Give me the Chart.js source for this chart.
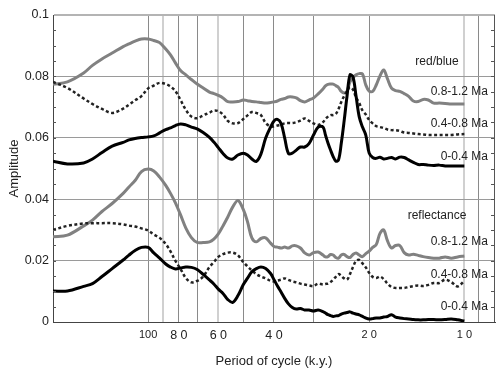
<!DOCTYPE html>
<html>
<head>
<meta charset="utf-8">
<script src="https://cdn.jsdelivr.net/npm/chart.js@4.4.0/dist/chart.umd.min.js"></script>
<style>
  html, body { margin: 0; padding: 0; background: #fff; }
  #wrap { width: 504px; height: 372px; }
</style>
</head>
<body>
<div id="wrap"><canvas id="spectra" width="504" height="372"></canvas></div>
<script>
// periods (k.y.) shared by all six spectra
const periods = [200, 180, 160, 150, 140, 130, 120, 115, 110, 105,
    100, 96, 92, 88, 85, 82, 79, 76, 73, 70,
    67, 64, 62, 60, 58, 56, 54, 52, 50, 48.5,
    47, 45.5, 44, 42.5, 41, 40, 39, 38, 37, 36,
    35, 34, 33, 32, 31, 30, 29, 28, 27.5, 27,
    26.5, 26, 25.5, 25, 24.5, 24, 23.5, 23, 22.5, 22,
    21.5, 21, 20.5, 20, 19.5, 19, 18.5, 18, 17.5, 17,
    16.5, 16, 15.5, 15, 14.5, 14, 13.5, 13, 12.5, 12,
    11.5, 11, 10.5, 10];

// red/blue
const rbOld = [0.0774, 0.0782, 0.0811, 0.0836, 0.0857, 0.0876, 0.0897, 0.0906, 0.0915, 0.0922,
    0.0922, 0.0917, 0.0910, 0.0889, 0.0870, 0.0844, 0.0819, 0.0805, 0.0790, 0.0775,
    0.0762, 0.0749, 0.0744, 0.0738, 0.0730, 0.0718, 0.0717, 0.0718, 0.0723, 0.0721,
    0.0718, 0.0717, 0.0715, 0.0713, 0.0715, 0.0717, 0.0720, 0.0725, 0.0728, 0.0733,
    0.0733, 0.0730, 0.0721, 0.0717, 0.0723, 0.0730, 0.0743, 0.0759, 0.0769, 0.0774,
    0.0775, 0.0775, 0.0770, 0.0764, 0.0751, 0.0746, 0.0752, 0.0782, 0.0796, 0.0805,
    0.0809, 0.0808, 0.0772, 0.0752, 0.0751, 0.0772, 0.0801, 0.0821, 0.0792, 0.0762,
    0.0754, 0.0751, 0.0744, 0.0735, 0.0720, 0.0718, 0.0725, 0.0723, 0.0713, 0.0713,
    0.0712, 0.0710, 0.0710, 0.0710];
const rbMid = [0.0782, 0.0762, 0.0728, 0.0710, 0.0694, 0.0681, 0.0695, 0.0708, 0.0722, 0.0736,
    0.0761, 0.0770, 0.0779, 0.0775, 0.0767, 0.0752, 0.0723, 0.0691, 0.0669, 0.0664,
    0.0673, 0.0682, 0.0689, 0.0687, 0.0676, 0.0655, 0.0647, 0.0648, 0.0661, 0.0673,
    0.0684, 0.0681, 0.0674, 0.0648, 0.0637, 0.0637, 0.0640, 0.0643, 0.0647, 0.0648,
    0.0648, 0.0651, 0.0656, 0.0663, 0.0655, 0.0647, 0.0642, 0.0651, 0.0661, 0.0669,
    0.0674, 0.0674, 0.0678, 0.0694, 0.0717, 0.0736, 0.0752, 0.0765, 0.0757, 0.0731,
    0.0713, 0.0689, 0.0676, 0.0658, 0.0647, 0.0638, 0.0635, 0.0632, 0.0627, 0.0625,
    0.0625, 0.0622, 0.0617, 0.0616, 0.0614, 0.0612, 0.0611, 0.0609, 0.0609, 0.0609,
    0.0609, 0.0609, 0.0611, 0.0612];
const rbYoung = [0.0524, 0.0515, 0.0518, 0.0531, 0.0552, 0.0573, 0.0585, 0.0593, 0.0598, 0.0601,
    0.0603, 0.0606, 0.0616, 0.0627, 0.0632, 0.0640, 0.0645, 0.0642, 0.0635, 0.0629,
    0.0617, 0.0601, 0.0586, 0.0568, 0.0549, 0.0534, 0.0531, 0.0544, 0.0550, 0.0544,
    0.0531, 0.0523, 0.0547, 0.0599, 0.0635, 0.0655, 0.0660, 0.0647, 0.0599, 0.0549,
    0.0550, 0.0560, 0.0570, 0.0570, 0.0581, 0.0609, 0.0635, 0.0635, 0.0609, 0.0583,
    0.0560, 0.0539, 0.0524, 0.0528, 0.0583, 0.0655, 0.0736, 0.0805, 0.0798, 0.0735,
    0.0668, 0.0635, 0.0609, 0.0550, 0.0536, 0.0533, 0.0537, 0.0531, 0.0533, 0.0536,
    0.0531, 0.0537, 0.0536, 0.0528, 0.0520, 0.0513, 0.0513, 0.0511, 0.0510, 0.0511,
    0.0508, 0.0508, 0.0508, 0.0508];

// reflectance
const rfOld = [0.0278, 0.0283, 0.0313, 0.0332, 0.0360, 0.0386, 0.0419, 0.0440, 0.0461, 0.0490,
    0.0498, 0.0492, 0.0472, 0.0445, 0.0419, 0.0388, 0.0349, 0.0306, 0.0275, 0.0259,
    0.0259, 0.0261, 0.0270, 0.0287, 0.0313, 0.0342, 0.0375, 0.0396, 0.0366, 0.0326,
    0.0274, 0.0261, 0.0272, 0.0274, 0.0257, 0.0246, 0.0244, 0.0241, 0.0244, 0.0241,
    0.0248, 0.0248, 0.0241, 0.0225, 0.0218, 0.0226, 0.0228, 0.0218, 0.0212, 0.0213,
    0.0220, 0.0218, 0.0210, 0.0208, 0.0218, 0.0220, 0.0213, 0.0210, 0.0220, 0.0225,
    0.0218, 0.0213, 0.0223, 0.0231, 0.0243, 0.0252, 0.0288, 0.0300, 0.0264, 0.0241,
    0.0249, 0.0249, 0.0226, 0.0218, 0.0221, 0.0217, 0.0213, 0.0210, 0.0208, 0.0208,
    0.0212, 0.0208, 0.0212, 0.0215];
const rfMid = [0.0300, 0.0313, 0.0321, 0.0322, 0.0322, 0.0322, 0.0318, 0.0314, 0.0311, 0.0305,
    0.0298, 0.0285, 0.0274, 0.0254, 0.0230, 0.0199, 0.0173, 0.0143, 0.0129, 0.0134,
    0.0148, 0.0179, 0.0195, 0.0212, 0.0221, 0.0226, 0.0226, 0.0217, 0.0195, 0.0181,
    0.0168, 0.0156, 0.0148, 0.0142, 0.0134, 0.0132, 0.0135, 0.0138, 0.0142, 0.0137,
    0.0132, 0.0129, 0.0125, 0.0122, 0.0119, 0.0117, 0.0125, 0.0122, 0.0124, 0.0125,
    0.0130, 0.0138, 0.0147, 0.0156, 0.0150, 0.0142, 0.0138, 0.0156, 0.0179, 0.0199,
    0.0202, 0.0191, 0.0178, 0.0160, 0.0147, 0.0143, 0.0148, 0.0140, 0.0125, 0.0114,
    0.0111, 0.0111, 0.0111, 0.0114, 0.0117, 0.0119, 0.0117, 0.0121, 0.0127, 0.0127,
    0.0138, 0.0130, 0.0116, 0.0134];
const rfYoung = [0.0101, 0.0101, 0.0116, 0.0125, 0.0148, 0.0174, 0.0202, 0.0218, 0.0233, 0.0243,
    0.0243, 0.0225, 0.0208, 0.0189, 0.0179, 0.0173, 0.0176, 0.0179, 0.0178, 0.0171,
    0.0155, 0.0137, 0.0124, 0.0107, 0.0093, 0.0073, 0.0064, 0.0086, 0.0122, 0.0143,
    0.0164, 0.0174, 0.0179, 0.0174, 0.0158, 0.0138, 0.0117, 0.0098, 0.0077, 0.0059,
    0.0047, 0.0042, 0.0044, 0.0039, 0.0039, 0.0036, 0.0039, 0.0034, 0.0029, 0.0024,
    0.0021, 0.0018, 0.0020, 0.0021, 0.0026, 0.0029, 0.0031, 0.0033, 0.0029, 0.0026,
    0.0023, 0.0018, 0.0013, 0.0010, 0.0011, 0.0013, 0.0013, 0.0016, 0.0018, 0.0024,
    0.0016, 0.0013, 0.0011, 0.0010, 0.0008, 0.0007, 0.0007, 0.0008, 0.0008, 0.0007,
    0.0008, 0.0010, 0.0007, 0.0003];

// axis ticks
const xGridTicks = [100, 90, 80, 70, 60, 50, 40, 30, 20, 10, 9];
const xLabels = {100: '100', 80: '8 0', 60: '6 0', 40: '4 0', 20: '2 0', 10: '1 0'};
const xLightLines = [90, 60, 10];
const yTicks = [0, 0.02, 0.04, 0.06, 0.08, 0.1];
const yLabels = {0: '0', 20: '0.02', 40: '0.04', 60: '0.06', 80: '0.08', 100: '0.1'};

// text on the right side: [text, amplitude at its middle, kind]
const notes = [
    ['red/blue', 0.0847, 'head'],
    ['0.8-1.2 Ma', 0.0749, 'age'],
    ['0.4-0.8 Ma', 0.0647, 'age'],
    ['0-0.4 Ma', 0.0539, 'age'],
    ['reflectance', 0.0347, 'head'],
    ['0.8-1.2 Ma', 0.0261, 'age'],
    ['0.4-0.8 Ma', 0.0155, 'age'],
    ['0-0.4 Ma', 0.0050, 'age']
];

const FONT = '"Liberation Sans", Arial, Helvetica, sans-serif';
Chart.defaults.font.family = FONT;
Chart.defaults.color = '#222';

const pts = vals => periods.map((p, i) => ({x: p, y: vals[i]}));
const gray = '#818181';

const line = (vals, color, dash, order, width) => ({
    data: pts(vals),
    borderColor: color,
    borderWidth: width,
    borderDash: dash,
    borderCapStyle: 'butt',
    pointRadius: 0,
    tension: 0.35,
    fill: false,
    order: order
});

// minor ticks on both sides, right frame line, the series notes
const extras = {
    id: 'extras',
    afterDatasetsDraw(chart) {
        const {ctx, chartArea, scales} = chart;
        const y = scales.y;
        ctx.save();
        ctx.strokeStyle = '#555';
        ctx.lineWidth = 1;
        ctx.beginPath();
        ctx.moveTo(chartArea.right - 0.5, chartArea.top);
        ctx.lineTo(chartArea.right - 0.5, chartArea.bottom);
        for (let i = 1; i < 20; i++) {
            const py = Math.round(y.getPixelForValue(i * 0.005)) + 0.5;
            ctx.moveTo(chartArea.left, py);
            ctx.lineTo(chartArea.left + 3, py);
            ctx.moveTo(chartArea.right - 4, py);
            ctx.lineTo(chartArea.right, py);
        }
        ctx.stroke();

        ctx.fillStyle = '#222';
        ctx.font = '12px ' + FONT;
        ctx.textBaseline = 'middle';
        notes.forEach(([text, amp, kind]) => {
            const py = y.getPixelForValue(amp);
            if (kind === 'head') {
                ctx.textAlign = 'center';
                ctx.fillText(text, chartArea.right - 58, py);
            } else {
                ctx.textAlign = 'right';
                ctx.fillText(text, chartArea.right - 7, py);
            }
        });
        ctx.restore();
    }
};

new Chart(document.getElementById('spectra'), {
    type: 'line',
    data: {
        datasets: [
            line(rbYoung, '#000', [], 1, 3),
            line(rbMid, '#222', [3, 2.5], 2, 2.5),
            line(rbOld, gray, [], 3, 3),
            line(rfYoung, '#000', [], 1, 3),
            line(rfMid, '#222', [3, 2.5], 2, 2.5),
            line(rfOld, gray, [], 3, 3)
        ]
    },
    options: {
        responsive: false,
        animation: false,
        devicePixelRatio: 1,
        layout: {padding: {top: 15, right: 9, left: 0, bottom: 0}},
        plugins: {legend: {display: false}, tooltip: {enabled: false}},
        scales: {
            x: {
                type: 'logarithmic',
                reverse: true,
                min: 8,
                max: 200,
                afterBuildTicks: scale => {
                    scale.ticks = xGridTicks.map(v => ({value: v}));
                },
                afterFit: scale => { scale.height = 50; },
                border: {color: '#444', width: 1},
                grid: {
                    drawTicks: false,
                    color: c => xLightLines.includes(c.tick && c.tick.value) ? '#d0d0d0' : '#8a8a8a',
                    lineWidth: c => xLightLines.includes(c.tick && c.tick.value) ? 2 : 1
                },
                ticks: {
                    autoSkip: false,
                    maxRotation: 0,
                    padding: 6,
                    color: '#222',
                    font: c => ({size: [100, 20, 10].includes(c.tick && c.tick.value) ? 11 : 12.5}),
                    callback: v => xLabels[v] || ''
                },
                title: {
                    display: true,
                    text: 'Period of cycle (k.y.)',
                    color: '#222',
                    font: {size: 13},
                    padding: {top: 0, bottom: 3}
                }
            },
            y: {
                min: 0,
                max: 0.1,
                afterBuildTicks: scale => {
                    scale.ticks = yTicks.map(v => ({value: v}));
                },
                afterFit: scale => { scale.width = 53; },
                border: {color: '#444', width: 1},
                grid: {
                    drawTicks: false,
                    color: c => {
                        const v = Math.round((c.tick ? c.tick.value : 0) * 1000);
                        if (v === 0) return 'rgba(0,0,0,0)';
                        return v === 100 ? '#b4b4b4' : '#9a9a9a';
                    },
                    lineWidth: c => Math.round((c.tick ? c.tick.value : 0) * 1000) === 100 ? 2 : 1
                },
                ticks: {
                    padding: 4,
                    color: '#222',
                    font: {size: 12.5},
                    callback: v => yLabels[Math.round(v * 1000)] || ''
                },
                title: {
                    display: true,
                    text: 'Amplitude',
                    color: '#222',
                    font: {size: 13},
                    padding: {top: 7, bottom: 0}
                }
            }
        }
    },
    plugins: [extras]
});
</script>
</body>
</html>
